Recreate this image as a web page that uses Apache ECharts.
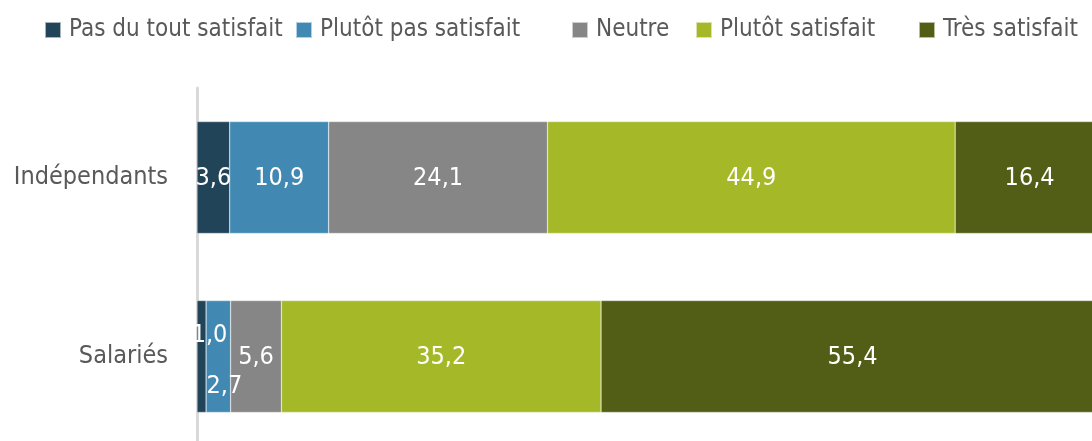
<!DOCTYPE html>
<html>
<head>
<meta charset="utf-8">
<style>
  html, body { margin: 0; padding: 0; background: #fff; }
  #chart { width: 1092px; height: 441px; }
</style>
</head>
<body>
<div id="chart"></div>
<script src="https://cdn.jsdelivr.net/npm/echarts@6/dist/echarts.min.js"></script>
<script>
  var categories = ['Indépendants', 'Salariés'];
  var seriesNames = ['Pas du tout satisfait', 'Plutôt pas satisfait', 'Neutre', 'Plutôt satisfait', 'Très satisfait'];
  var pasDuTout = [3.6, 1.0];
  var plutotPas = [10.9, 2.7];
  var neutre = [24.1, 5.6];
  var plutotSatisfait = [44.9, 35.2];
  var tresSatisfait = [16.4, 55.4];

  var values = [pasDuTout, plutotPas, neutre, plutotSatisfait, tresSatisfait];
  var colors = ['#224459', '#4189b3', '#868686', '#a5b928', '#525e16'];
  var legendLeft = [44, 295, 571, 695, 918];
  var font = '"Liberation Sans Narrow", "DejaVu Sans Condensed", sans-serif';

  // small segments of "Salariés" get their labels pushed up / down
  var labelOffsets = [
    [null, [8, -21]],
    [null, [6, 30]],
    null, null, null
  ];

  var chart = echarts.init(document.getElementById('chart'));

  var series = seriesNames.map(function (name, i) {
    return {
      name: name,
      type: 'bar',
      stack: 'total',
      barWidth: '62.5%',
      clip: false,
      itemStyle: { color: colors[i], borderColor: 'rgba(255,255,255,0.6)', borderWidth: 0.5 },
      label: {
        show: true,
        position: 'inside',
        offset: [0, 1],
        color: '#fff',
        fontFamily: font,
        fontSize: 25,
        formatter: function (p) { return p.value.toFixed(1).replace('.', ','); }
      },
      data: values[i].map(function (v, j) {
        var d = { value: v };
        if (labelOffsets[i] && labelOffsets[i][j]) {
          d.label = { offset: labelOffsets[i][j] };
        }
        return d;
      })
    };
  });

  var legends = seriesNames.map(function (name, i) {
    return {
      data: [name],
      left: legendLeft[i],
      top: 18,
      padding: 0,
      icon: 'rect',
      itemWidth: 16,
      itemHeight: 16,
      itemGap: 9,
      textStyle: { color: '#595959', fontFamily: font, fontSize: 24, padding: [0, 0, 0, 3] },
      selectedMode: false
    };
  });

  chart.setOption({
    animation: false,
    legend: legends,
    // the reference crops the last segment, so the grid runs past the right edge
    grid: { left: 197, width: 908, top: 88, bottom: -5, outerBoundsMode: 'none' },
    xAxis: {
      type: 'value',
      min: 0,
      max: 100,
      show: false
    },
    yAxis: {
      type: 'category',
      data: categories,
      inverse: true,
      axisLine: { lineStyle: { color: '#d9d9d9', width: 3 } },
      axisTick: { show: false },
      axisLabel: { color: '#595959', fontFamily: font, fontSize: 25, margin: 29 }
    },
    series: series
  });
</script>
</body>
</html>
